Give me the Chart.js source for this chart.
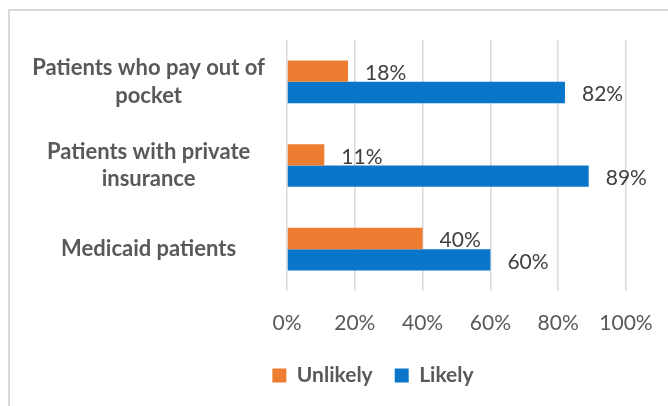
<!DOCTYPE html>
<html>
<head>
<meta charset="utf-8">
<script src="https://cdn.jsdelivr.net/npm/chart.js@4"></script>
<style>
  html, body { margin: 0; padding: 0; background: #fff; }
  #frame {
    position: absolute; left: 8px; top: 9px; width: 700px; height: 420px;
    border: 2px solid #d9d9d9; box-sizing: border-box;
  }
  #wrap { position: absolute; left: 0; top: 0; width: 668px; height: 406px; }
</style>
</head>
<body>
<div id="frame"></div>
<div id="wrap"><canvas id="chart"></canvas></div>
<script>
const categories = [
  ['Patients who pay out of', 'pocket'],
  ['Patients with private', 'insurance'],
  'Medicaid patients'
];
const unlikely = [18, 11, 40];
const likely = [82, 89, 60];
const xTicks = [0, 20, 40, 60, 80, 100];

const FONT = 'Lato, "Open Sans", sans-serif';

// value labels just past the end of each bar
const barLabels = {
  id: 'barLabels',
  afterDatasetsDraw(chart) {
    const ctx = chart.ctx;
    ctx.save();
    ctx.font = '21px ' + FONT;
    ctx.fillStyle = '#404040';
    ctx.textAlign = 'left';
    ctx.textBaseline = 'middle';
    chart.data.datasets.forEach((ds, i) => {
      chart.getDatasetMeta(i).data.forEach((bar, j) => {
        ctx.fillText(ds.data[j] + '%', bar.x + 17, bar.y + 2);
      });
    });
    ctx.restore();
  }
};

// the legend sits a bit right of the canvas centre, under the plot
const legendShift = {
  id: 'legendShift',
  afterLayout(chart) {
    chart.legend.left += 55;
    chart.legend.right += 55;
  }
};

new Chart(document.getElementById('chart'), {
  type: 'bar',
  data: {
    labels: categories,
    datasets: [
      { label: 'Unlikely', data: unlikely, backgroundColor: '#ed7d31' },
      { label: 'Likely', data: likely, backgroundColor: '#0a76c9' }
    ]
  },
  options: {
    indexAxis: 'y',
    responsive: true,
    maintainAspectRatio: false,
    animation: false,
    categoryPercentage: 0.51,
    barPercentage: 1,
    layout: { padding: { left: 10, right: 42, top: 40, bottom: 10 } },
    scales: {
      x: {
        min: 0,
        max: 100,
        afterBuildTicks: (axis) => { axis.ticks = xTicks.map(v => ({ value: v })); },
        afterFit: (axis) => { axis.height = 52; axis.paddingRight = 0; },
        grid: { color: '#d9d9d9', lineWidth: 1.5, drawTicks: false },
        border: { display: false },
        ticks: {
          padding: 20,
          color: '#595959',
          font: { family: FONT, size: 21 },
          callback: (v) => v + '%'
        }
      },
      y: {
        grid: { display: false, drawTicks: false },
        border: { display: false },
        afterFit: (axis) => { axis.width = 287 - 10; },
        ticks: {
          padding: 22,
          crossAlign: 'center',
          color: '#595959',
          font: { family: FONT, size: 22, weight: 'bold', lineHeight: 1.25 }
        }
      }
    },
    plugins: {
      legend: {
        position: 'bottom',
        labels: {
          boxWidth: 14,
          boxHeight: 14,
          padding: 22,
          color: '#595959',
          font: { family: FONT, size: 21, weight: 'bold' }
        }
      },
      tooltip: { enabled: false }
    }
  },
  plugins: [barLabels, legendShift]
});
</script>
</body>
</html>
